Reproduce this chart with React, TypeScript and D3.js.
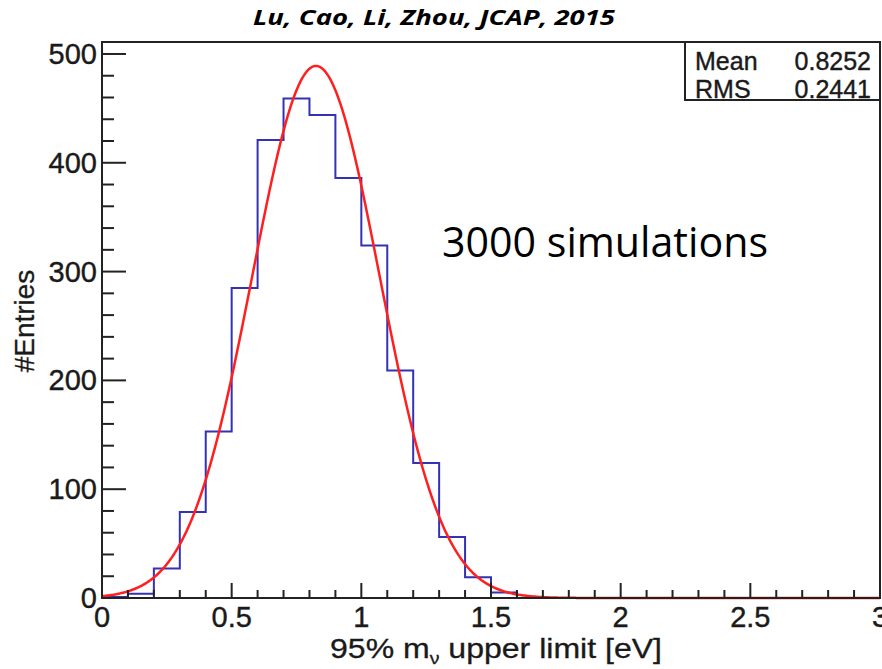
import React from "react";
import * as d3 from "d3";

// ---- data ----
const binEdgesStart = 0; // first bin lower edge (eV)
const binWidth = 0.1;
const binCounts = [1, 4, 27, 79, 153, 285, 421, 459, 444, 386, 324, 209, 124, 56, 19, 5, 0, 0, 0, 0, 0, 0, 0, 0, 0, 0, 0, 0, 0, 0];
const fitAmplitude = 489;
const fitMean = 0.825;
const fitSigma = 0.245;
const xTicks = [0, 0.5, 1, 1.5, 2, 2.5, 3];
const xTickLabels = ["0", "0.5", "1", "1.5", "2", "2.5", "3"];
const yTicks = [0, 100, 200, 300, 400, 500];
const yTickLabels = ["0", "100", "200", "300", "400", "500"];
const statsRows = [
  ["Mean", "0.8252"],
  ["RMS", "0.2441"],
];
const titleText = "Lu, Cao, Li, Zhou, JCAP, 2015";
const annotationText = "3000 simulations";
const yLabel = "#Entries";

const W = 882;
const H = 669;
const L = 102, R = 880, T = 42, B = 598;

export default function App() {
  const x = d3.scaleLinear().domain([0, 3]).range([L, R]);
  const y = d3.scaleLinear().domain([0, 511]).range([B, T]);

  // histogram step outline
  const pts: [number, number][] = [[binEdgesStart, 0]];
  binCounts.forEach((c, i) => {
    const x0 = binEdgesStart + i * binWidth;
    const x1 = x0 + binWidth;
    pts.push([x0, c]);
    pts.push([x1, c]);
  });
  const histLine = d3.line<[number, number]>().x((d) => x(d[0])).y((d) => y(d[1]));

  const fitX = d3.range(0, 3.0001, 0.005);
  const fitPts: [number, number][] = fitX.map((v) => [
    v,
    fitAmplitude * Math.exp(-((v - fitMean) ** 2) / (2 * fitSigma * fitSigma)),
  ]);
  const fitLine = d3.line<[number, number]>().x((d) => x(d[0])).y((d) => y(d[1]));

  const xMinor = d3.range(0, 3.0001, 0.1).map((v) => Math.round(v * 10) / 10);
  const yMinor = d3.range(0, 511, 20);

  const axisFont = "'Liberation Sans', Arial, sans-serif";
  const ink = "#1a1a1a";

  return (
    <svg width={W} height={H} style={{ position: "absolute", left: 0, top: 0, background: "#fff" }}>
      <rect x={0} y={0} width={W} height={H} fill="#fff" />
      {/* title */}
      <text x={434} y={25} textAnchor="middle" fontFamily="'Open Sans', Lato, sans-serif" fontWeight="bold" fontStyle="italic" fontSize={21} textLength={362} lengthAdjust="spacingAndGlyphs" fill="#000">
        {titleText}
      </text>

      {/* histogram */}
      <path d={histLine(pts) || ""} fill="none" stroke="#3232b4" strokeWidth={2} />
      {/* fit */}
      <path d={fitLine(fitPts) || ""} fill="none" stroke="#ff1f1f" strokeWidth={2.5} />

      {/* y ticks */}
      {yMinor.map((v) => (
        <line key={"ym" + v} x1={L} x2={L + (v % 100 === 0 ? 24 : 12)} y1={y(v)} y2={y(v)} stroke="#222" strokeWidth={2} />
      ))}
      {/* x ticks */}
      {xMinor.map((v) => (
        <line key={"xm" + v} x1={x(v)} x2={x(v)} y1={B} y2={B - (Math.abs(v * 2 - Math.round(v * 2)) < 1e-6 ? 15 : 8)} stroke="#222" strokeWidth={2} />
      ))}

      {/* frame */}
      <rect x={L} y={T} width={R - L} height={B - T} fill="none" stroke="#222" strokeWidth={2} />

      {/* y tick labels */}
      {yTicks.map((v, i) => (
        <text key={"yl" + v} x={97} y={y(v) + 10} textAnchor="end" fontFamily={axisFont} fontSize={29} fill={ink} stroke={ink} strokeWidth={0.4}>
          {yTickLabels[i]}
        </text>
      ))}
      {/* x tick labels */}
      {xTicks.map((v, i) => (
        <text key={"xl" + v} x={x(v)} y={627} textAnchor="middle" fontFamily={axisFont} fontSize={29} fill={ink} stroke={ink} strokeWidth={0.4}>
          {xTickLabels[i]}
        </text>
      ))}

      {/* axis titles */}
      <text x={330} y={658} fontFamily={axisFont} fontSize={28} fill={ink} stroke={ink} strokeWidth={0.3} textLength={332} lengthAdjust="spacingAndGlyphs">
        95% m<tspan fontSize={17} dy={6}>ν</tspan><tspan dy={-6}> upper limit [eV]</tspan>
      </text>
      <text transform={`translate(34,321) rotate(-90)`} textAnchor="middle" fontFamily={axisFont} fontSize={28} fill={ink} stroke={ink} strokeWidth={0.3}>
        {yLabel}
      </text>

      {/* stats box */}
      <rect x={685} y={T} width={R - 685} height={58} fill="#fff" stroke="#222" strokeWidth={2} />
      {statsRows.map((r, i) => (
        <g key={r[0]}>
          <text x={695} y={70 + i * 28} fontFamily={axisFont} fontSize={25} fill={ink} stroke={ink} strokeWidth={0.4}>{r[0]}</text>
          <text x={871} y={70 + i * 28} textAnchor="end" fontFamily={axisFont} fontSize={25} fill={ink} stroke={ink} strokeWidth={0.4}>{r[1]}</text>
        </g>
      ))}

      {/* annotation */}
      <text x={442} y={257} fontFamily="'Open Sans', Lato, sans-serif" fontSize={42} fill="#000" textLength={326} lengthAdjust="spacingAndGlyphs">
        {annotationText}
      </text>
    </svg>
  );
}
